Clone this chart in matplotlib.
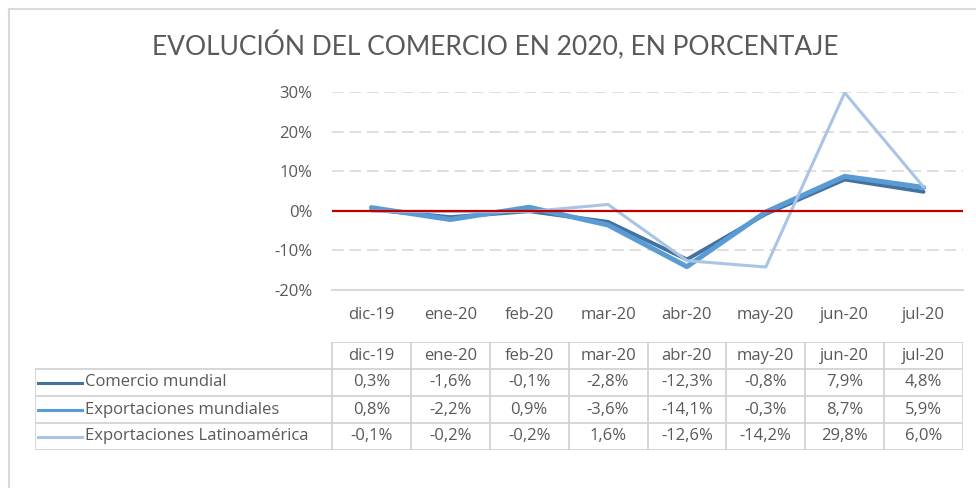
import numpy as np
import matplotlib
matplotlib.use('Agg')
from matplotlib import pyplot as plt
from matplotlib.lines import Line2D

# datos
meses = ['dic-19', 'ene-20', 'feb-20', 'mar-20', 'abr-20', 'may-20', 'jun-20', 'jul-20']
comercio_mundial = [0.3, -1.6, -0.1, -2.8, -12.3, -0.8, 7.9, 4.8]
export_mundiales = [0.8, -2.2, 0.9, -3.6, -14.1, -0.3, 8.7, 5.9]
export_latam = [-0.1, -0.2, -0.2, 1.6, -12.6, -14.2, 29.8, 6.0]
series = ['Comercio mundial', 'Exportaciones mundiales', 'Exportaciones Latinoamérica']
y_ticks = [-20, -10, 0, 10, 20, 30]

colores = ['#44729F', '#5B9BD5', '#A9C4E4']
anchos = [2.8, 3.6, 2.2]
gris = '#595959'
fuente = ['Open Sans', 'DejaVu Sans']
tam = 12

plt.rcParams['font.family'] = ['Lato', 'DejaVu Sans']

W, H = 976, 488
fig = plt.figure(figsize=(W / 100, H / 100), dpi=100)

def caja(x0, y0, x1, y1):
  return [x0 / W, 1 - y1 / H, (x1 - x0) / W, (y1 - y0) / H]

# marco
fig.add_artist(Line2D([9 / W, 9 / W], [0, 1 - 9 / H], color='#D9D9D9', lw=1.5))
fig.add_artist(Line2D([9 / W, 1], [1 - 9 / H, 1 - 9 / H], color='#D9D9D9', lw=1.5))

fig.text(495 / W, 1 - 46 / H, 'EVOLUCIÓN DEL COMERCIO EN 2020, EN PORCENTAJE',
         ha='center', va='center', fontsize=19, color=gris)

# grafico
ax = fig.add_axes(caja(332, 92, 963, 290))
x = np.arange(len(meses))
valores = [comercio_mundial, export_mundiales, export_latam]
for v, c, lw in zip(valores, colores, anchos):
  ax.plot(x, v, color=c, lw=lw, solid_joinstyle='round', solid_capstyle='round', zorder=3)
ax.axhline(0, color='#C00000', lw=1.6, zorder=4)
ax.set_xlim(-0.5, len(meses) - 0.5)
ax.set_ylim(-20, 30)
ax.set_yticks(y_ticks)
ax.set_yticklabels([f'{t}%' for t in y_ticks], family=fuente)
for t in y_ticks[1:]:
  ax.axhline(t, color='#D9D9D9', lw=1.2, ls=(0, (7, 3.5)), zorder=1)
ax.set_xticks(x)
ax.set_xticklabels(meses, family=fuente)
ax.tick_params(length=0, labelsize=tam, labelcolor=gris)
ax.tick_params(axis='y', pad=14)
ax.tick_params(axis='x', pad=12)
for s in ['top', 'right', 'left']:
  ax.spines[s].set_visible(False)
ax.spines['bottom'].set_color('#D9D9D9')
ax.spines['bottom'].set_linewidth(1.5)
ax.set_facecolor('none')

# tabla
ancho_col = (963 - 332) / len(meses)
xmin = -0.5 - (332 - 35) / ancho_col
tb = fig.add_axes(caja(35, 342, 963, 450))
tb.set_xlim(xmin, len(meses) - 0.5)
tb.set_ylim(4, 0)
tb.axis('off')
borde = dict(color='#D0D0D0', lw=1.2)
tb.plot([-0.5, len(meses) - 0.5], [0, 0], **borde)
for r in range(1, 5):
  tb.plot([xmin, len(meses) - 0.5], [r, r], **borde)
for i in range(len(meses) + 1):
  tb.plot([i - 0.5, i - 0.5], [0, 4], **borde)
tb.plot([xmin, xmin], [1, 4], **borde)
for i, m in enumerate(meses):
  tb.text(i, 0.5, m, ha='center', va='center', fontsize=tam, color=gris, family=fuente)
for r, (nombre, v, c, lw) in enumerate(zip(series, valores, colores, anchos)):
  y = r + 1.5
  tb.plot([xmin + 0.04, xmin + 0.6], [y, y], color=c, lw=2.2)
  tb.text(xmin + 0.63, y, nombre, ha='left', va='center', fontsize=tam, color=gris,
          family=fuente)
  for i, val in enumerate(v):
    tb.text(i, y, f'{val:.1f}%'.replace('.', ','), ha='center', va='center',
            fontsize=tam, color=gris, family=fuente)

fig.savefig('out.png', dpi=100, facecolor='white')
